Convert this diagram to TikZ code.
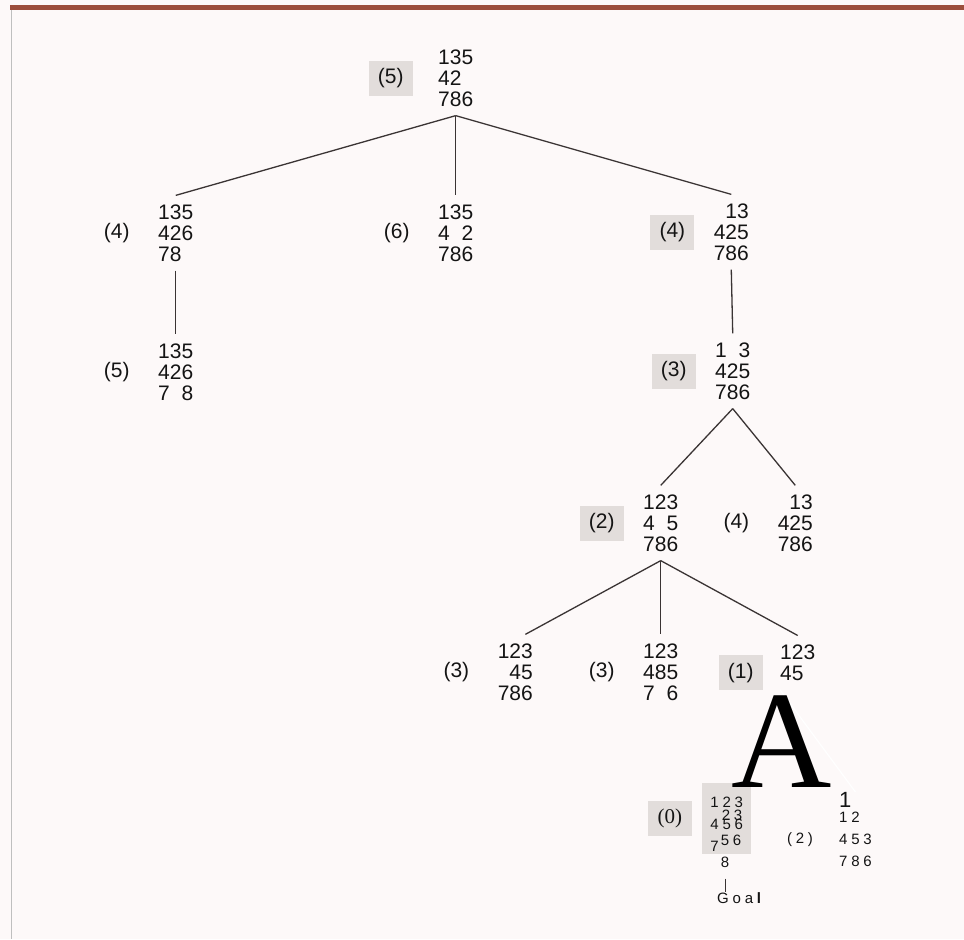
\documentclass[tikz,border=0pt]{standalone}
\usepackage{fontspec}
\setsansfont{Liberation Sans}
\newfontfamily\spacedsf[LetterSpace=25]{Liberation Sans}
\newfontfamily\timesf{Liberation Serif}
\usetikzlibrary{positioning}

\definecolor{paper}{RGB}{253,249,249}
\definecolor{rule}{RGB}{156,78,60}
\definecolor{shade}{RGB}{226,221,219}
\definecolor{ink}{RGB}{20,20,20}
\definecolor{wire}{RGB}{58,52,52}

\begin{document}
\begin{tikzpicture}[
    x=1pt, y=-1pt,
    state/.style={font=\sffamily\fontsize{21}{21}\selectfont, align=left,
                  inner xsep=0pt, inner ysep=9pt, text=ink},
    stater/.style={state, align=right},
    small/.style={font=\spacedsf\fontsize{15}{22}\selectfont, align=left,
                  inner sep=0pt, text=ink},
    hval/.style={font=\sffamily\fontsize{21}{21}\selectfont, minimum width=44pt,
                 minimum height=35pt, inner sep=0pt, text=ink},
    hbest/.style={hval, fill=shade},
    edge/.style={draw=wire, line width=1.3pt},
    node distance=19pt,
  ]
    % page and frame
    \fill[paper] (0,0) rectangle (964,939);
    \fill[rule] (10,4.5) rectangle (964,10);
    \draw[black!25, line width=1pt] (11.5,10) -- (11.5,939);

    % start state
    \node[state, anchor=west] (root) at (438,78) {135\\42\\786};
    \node[hbest, left=25pt of root] (hroot) {(5)};

    % first moves
    \node[state, anchor=west] (l1l) at (158,233) {135\\426\\78};
    \node[hval, left=of l1l] (h1l) {(4)};
    \node[state, anchor=west] (l1m) at (438,233) {135\\4\phantom{0}2\\786};
    \node[hval, left=of l1m] (h1m) {(6)};
    \node[stater, anchor=east] (l1r) at (749,232) {13\\425\\786};
    \node[hbest, left=of l1r] (h1r) {(4)};

    % second moves
    \node[state, anchor=west] (l2l) at (158,372) {135\\426\\7\phantom{0}8};
    \node[hval, left=of l2l] (h2l) {(5)};
    \node[state, anchor=west] (l2r) at (715,371) {1\phantom{0}3\\425\\786};
    \node[hbest, left=of l2r] (h2r) {(3)};

    % third moves
    \node[state, anchor=west] (l3a) at (643,523) {123\\4\phantom{0}5\\786};
    \node[hbest, left=of l3a] (h3a) {(2)};
    \node[stater, anchor=east] (l3b) at (813,523) {13\\425\\786};
    \node[hval, left=of l3b] (h3b) {(4)};

    % fourth moves
    \node[stater, anchor=east] (l4a) at (533,672) {123\\45\\786};
    \node[hval, left=of l4a] (h4a) {(3)};
    \node[state, anchor=west] (l4b) at (643,672) {123\\485\\7\phantom{0}6};
    \node[hval, left=of l4b] (h4b) {(3)};
    \node[state, anchor=north west] (l4c) at (780,635.5) {123\\45};
    \node[hbest, left=17pt of l4c.west, yshift=-10pt] (h4c) {(1)};

    % last moves
    \node[small, fill=shade, anchor=north west, minimum width=49pt, inner ysep=3pt]
        (g5l) at (702,783) {\rule{0pt}{21pt}123\\456\\7};
    \node[small] (ghost) at (732,815) {23};
    \node[small] (g56) at (731,840) {56};
    \node[small, inner ysep=11pt] (g8) at (725,862) {8};
    \node[small, anchor=north] (goal) at (741,892) {Goa\textbf{l}};
    \node[hbest, font=\timesf\fontsize{21}{21}\selectfont, left=10pt of g5l] (h5l) {(0)};

    \node[small, anchor=north west] (g5r) at (839,792)
        {{\fontsize{22}{22}\selectfont 1}\\[-6.5pt]12\\453\\786};
    \node[small] (h5r) at (800,840) {(2)};

    % tree edges
    \draw[edge] (root.south) -- (l1l.north);
    \draw[edge] (root.south) -- (l1m.north);
    \draw[edge] (root.south) -- (l1r.north);
    \draw[edge] (l1l.south) -- (l2l.north);
    \draw[edge] (l1r.south) -- (l2r.north);
    \draw[edge] (l2r.south) -- (l3a.north);
    \draw[edge] (l2r.south) -- (l3b.north);
    \draw[edge] (l3a.south) -- (l4a.75);
    \draw[edge] (l3a.south) -- (l4b.north);
    \draw[edge] (l3a.south) -- (l4c.north);
    \draw[white, line width=1.2pt] (l4c.south west) -- (g5r.north);
    \draw[wire, line width=0.6pt] (g8.south) -- (g8.south |- goal.north);

    % overprinted letter
    \node[font=\timesf\fontsize{139}{139}\selectfont, inner sep=0pt, anchor=base,
          text height=92pt, text depth=0pt, text=black] (bigA) at (781.5,787) {A};
  \end{tikzpicture}
\end{document}
